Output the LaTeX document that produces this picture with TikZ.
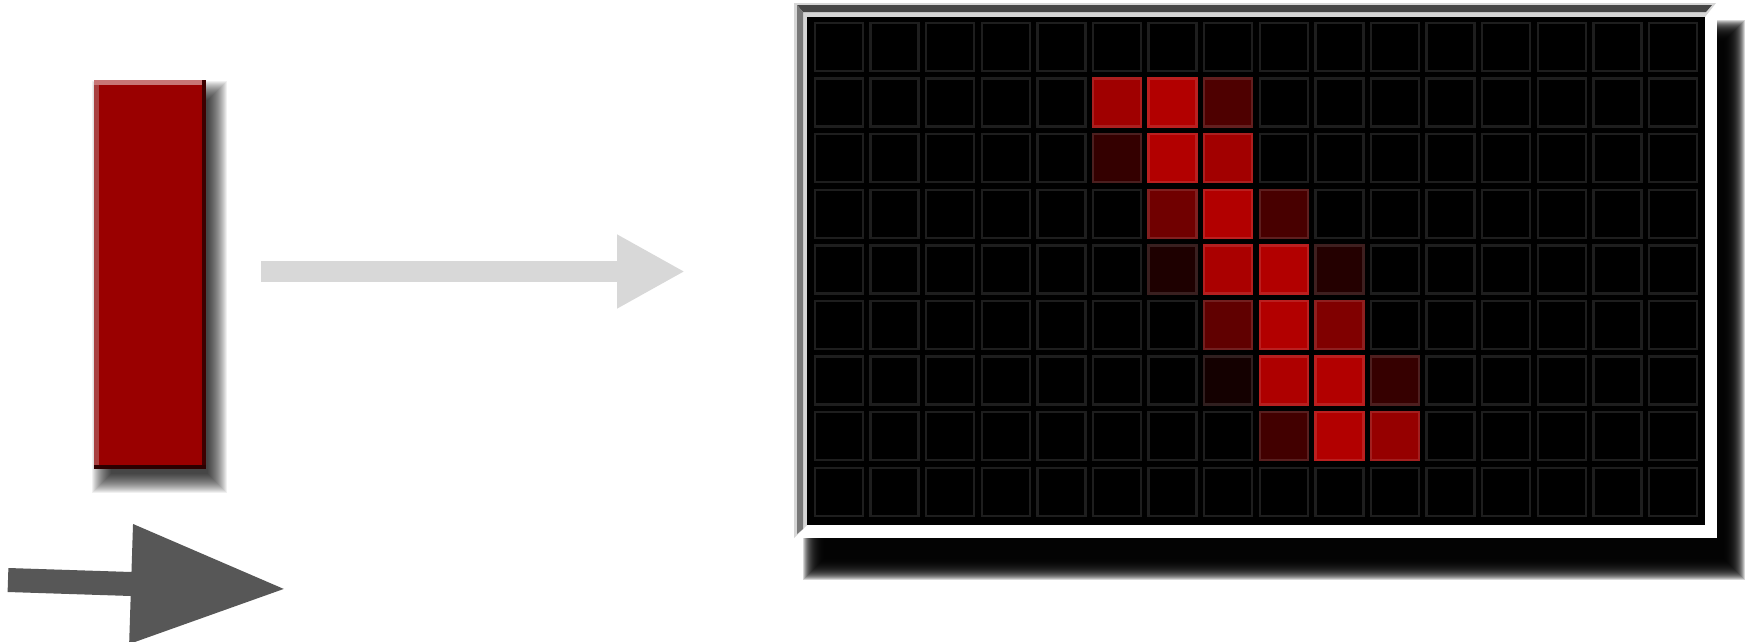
\documentclass[tikz,border=0pt]{standalone}
\usetikzlibrary{calc,arrows.meta}
\definecolor{barred}{RGB}{154,0,0}
\definecolor{bartop}{RGB}{200,118,118}
\definecolor{barleft}{RGB}{168,64,64}
\definecolor{barright}{RGB}{62,0,0}
\definecolor{barbot}{RGB}{44,0,0}
\definecolor{lightarrow}{RGB}{216,216,216}
\definecolor{darkarrow}{RGB}{87,87,87}
\definecolor{framelight}{RGB}{214,214,214}
\definecolor{framedark}{RGB}{70,70,70}
\definecolor{framemid}{RGB}{120,120,120}
\definecolor{cellline}{RGB}{30,30,30}
\tikzset{
  cellbox/.style={fill=black, draw=cellline, line width=2.5pt},
  flatbox/.style={inner sep=0pt, outer sep=0pt, anchor=north west, draw=none},
}
\begin{document}
\begin{tikzpicture}[x=1pt,y=-1pt]
\useasboundingbox (0,0) rectangle (1745,641);
\fill[white] (0,0) rectangle (1745,641);

% ---- red bar shadow (soft)
\foreach \k in {0,...,19}{
  \fill[black,fill opacity=0.06] ({103-11+\k},{92-11+\k}) rectangle ({216+11-\k},{482+11-\k});
}
% ---- red bar
\node[flatbox, fill=barred, minimum width=112pt, minimum height=389pt] (bar) at (94,80) {};
\fill[barleft] (bar.north west) rectangle ($(bar.south west)+(5,0)$);
\fill[bartop] (bar.north west) rectangle ($(bar.north east)+(0,5)$);
\fill[barright] ($(bar.north east)+(-4,0)$) rectangle (bar.south east);
\fill[barbot] ($(bar.south west)+(0,-4)$) rectangle (bar.south east);

% ---- light arrow
\coordinate (la1) at (261,271.5);
\coordinate (la2) at (685,271.5);
\draw[lightarrow, line width=21pt, -{Triangle[length=68pt,width=69pt]}] (la1) -- (la2);

% ---- dark arrow
\coordinate (da1) at (8,580);
\coordinate (da2) at (286,589);
\draw[darkarrow, line width=24pt, -{Triangle[length=155pt,width=113pt]}] (da1) -- (da2);

% ---- panel shadow (soft)
\foreach \k in {0,...,21}{
  \fill[black,fill opacity=0.16] ({815-12+\k},{32-12+\k}) rectangle ({1733+12-\k},{568+12-\k});
}
% ---- panel frame
\node[flatbox, fill=white, minimum width=923pt, minimum height=535pt] (panel) at (794,3) {};
\fill[framelight] (794,3) -- (1716,3) -- (1705,17) -- (807,17) -- (807,525) -- (794,538) -- cycle;
\fill[framedark] (797,5) -- (1712,5) -- (1706,12) -- (803,12) -- cycle;
\fill[framemid] (797,5) -- (803,12) -- (803,529) -- (797,534) -- cycle;
\node[flatbox, fill=black, minimum width=898pt, minimum height=508pt] (screen) at (807,17) {};

% ---- grid of cells
\foreach \c in {0,...,15}{
  \foreach \r in {0,...,8}{
    \draw[cellbox] ({815+55.6*\c},{23+55.6*\r}) rectangle ++(48,48);
  }
}
% ---- lit cells: row/col/red level
\foreach \r/\c/\v in {1/5/160, 1/6/178, 1/7/78,
                      2/5/52, 2/6/178, 2/7/162,
                      3/6/112, 3/7/178, 3/8/72,
                      4/6/30, 4/7/170, 4/8/178, 4/9/36,
                      5/7/96, 5/8/178, 5/9/128,
                      6/7/20, 6/8/174, 6/9/178, 6/10/54,
                      7/8/66, 7/9/178, 7/10/150}{
  \definecolor{litcell}{RGB}{\v,0,0}
  \draw[fill=litcell, draw=litcell!88!white, line width=2.5pt] ({815+55.6*\c},{23+55.6*\r}) rectangle ++(48,48);
}
\end{tikzpicture}
\end{document}
